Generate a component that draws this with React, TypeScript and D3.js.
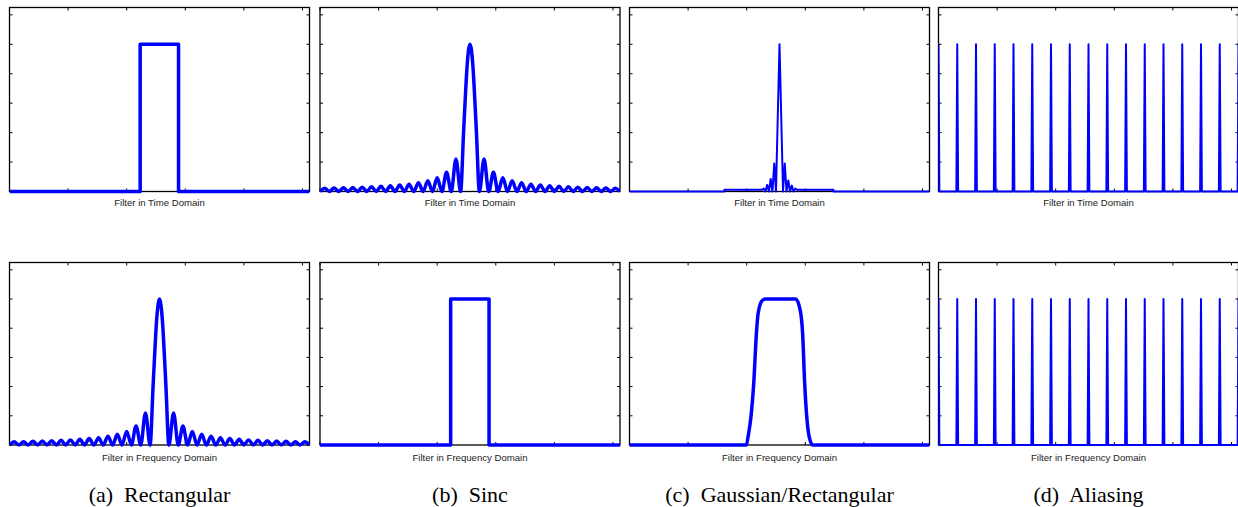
import React from 'react';
import * as d3 from 'd3';

const W = 1238;
const H = 507;

// axes
const xDomain = [0, 1024];
const yDomain = [0, 1.25];
const xTicks = [0, 200, 400, 600, 800, 1000];
const yTicks = [0, 0.2, 0.4, 0.6, 0.8, 1.0, 1.2];

// texts
const panelLetters = ['(a)', '(b)', '(c)', '(d)'];
const panelTitles = ['Rectangular', 'Sinc', 'Gaussian/Rectangular', 'Aliasing'];
const rowLabels = ['Filter in Time Domain', 'Filter in Frequency Domain'];

// rectangular filter
const rectX = [0, 446, 446, 577, 577, 1024];
const rectY = [0, 0, 1, 1, 0, 0];

// |sinc| filter (zeros and lobe peaks)
const sincX = [0, 16, 32, 48, 64, 80, 96, 112, 128, 144, 160, 176, 192, 208, 224, 240, 256, 272, 288, 304, 320, 336, 352, 368, 384, 400, 416, 432, 448, 464, 480,
  490, 496, 502, 512, 522, 528, 534,
  544, 560, 576, 592, 608, 624, 640, 656, 672, 688, 704, 720, 736, 752, 768, 784, 800, 816, 832, 848, 864, 880, 896, 912, 928, 944, 960, 976, 992, 1008, 1024];
const sincY = [0, 0.022, 0, 0.023, 0, 0.025, 0, 0.027, 0, 0.029, 0, 0.032, 0, 0.035, 0, 0.039, 0, 0.044, 0, 0.05, 0, 0.06, 0, 0.073, 0, 0.093, 0, 0.13, 0, 0.22, 0,
  0.4, 0.64, 0.85, 1, 0.85, 0.64, 0.4,
  0, 0.22, 0, 0.13, 0, 0.093, 0, 0.073, 0, 0.06, 0, 0.05, 0, 0.044, 0, 0.039, 0, 0.035, 0, 0.032, 0, 0.029, 0, 0.027, 0, 0.025, 0, 0.023, 0, 0.022, 0];

// gaussian-windowed sinc (time domain of c)
const gaussX = [0, 324, 324, 452, 458, 464, 470, 476, 482, 488, 494, 500, 512, 524, 530, 536, 542, 548, 554, 560, 566, 572, 696, 696, 1024];
const gaussY = [0, 0, 0.012, 0.012, 0.02, 0, 0.045, 0, 0.085, 0, 0.19, 0, 1, 0, 0.19, 0, 0.075, 0, 0.04, 0, 0.02, 0.012, 0.012, 0, 0];

// smoothed rectangle (frequency domain of c)
const trapX = [0, 399, 405, 415, 424, 433, 439, 453, 464, 567, 583, 591, 598, 606, 614, 625, 1024];
const trapY = [0, 0, 0.06, 0.2, 0.42, 0.76, 0.9, 0.99, 1, 1, 0.92, 0.76, 0.42, 0.17, 0.05, 0, 0];

// aliasing spikes
const aliasCenters = [0, 64, 128, 192, 256, 320, 384, 448, 512, 576, 640, 704, 768, 832, 896, 960, 1024];
const aliasHalfWidth = 3;

const zip = (xs: number[], ys: number[]) => xs.map((x, i) => [x, ys[i]] as [number, number]);
const spikes = (cs: number[], hw: number) => {
  const pts: [number, number][] = [];
  cs.forEach((c) => {
    pts.push([c - hw, 0], [c, 1], [c + hw, 0]);
  });
  return pts;
};

const panelLeft = [9.5, 320, 629.5, 938.5];
const panelW = 300;
const rowTop = [7.5, 262.5];
const rowBottom = [191.5, 445];

type Series = { pts: [number, number][]; curve: any; width: number };

const series: Series[][] = [
  [
    { pts: zip(rectX, rectY), curve: d3.curveLinear, width: 3.5 },
    { pts: zip(sincX, sincY), curve: d3.curveMonotoneX, width: 3.5 },
    { pts: zip(gaussX, gaussY), curve: d3.curveLinear, width: 2 },
    { pts: spikes(aliasCenters, aliasHalfWidth), curve: d3.curveLinear, width: 2 },
  ],
  [
    { pts: zip(sincX, sincY), curve: d3.curveMonotoneX, width: 3.5 },
    { pts: zip(rectX, rectY), curve: d3.curveLinear, width: 3.5 },
    { pts: zip(trapX, trapY), curve: d3.curveMonotoneX, width: 3.5 },
    { pts: spikes(aliasCenters, aliasHalfWidth), curve: d3.curveLinear, width: 2 },
  ],
];

function Panel({ col, row, s }: { col: number; row: number; s: Series }) {
  const x0 = panelLeft[col];
  const x1 = x0 + panelW;
  const y0 = rowTop[row];
  const y1 = rowBottom[row];
  const x = d3.scaleLinear().domain(xDomain).range([x0, x1]);
  const y = d3.scaleLinear().domain(yDomain).range([y1, y0]);
  const line = d3
    .line<[number, number]>()
    .x((d) => x(d[0]))
    .y((d) => y(d[1]))
    .curve(s.curve);
  const tl = 3;
  const clipId = `clip-${row}-${col}`;
  return (
    <g>
      <defs>
        <clipPath id={clipId}>
          <rect x={x0} y={y0 - 4} width={panelW} height={y1 - y0 + 8} />
        </clipPath>
      </defs>
      <rect x={x0} y={y0} width={panelW} height={y1 - y0} fill="#fff" stroke="#000" strokeWidth={1.3} />
      {xTicks.map((t) => (
        <g key={`xt${t}`} stroke="#000" strokeWidth={1}>
          <line x1={x(t)} x2={x(t)} y1={y1} y2={y1 - tl} />
          <line x1={x(t)} x2={x(t)} y1={y0} y2={y0 + tl} />
        </g>
      ))}
      {yTicks.map((t) => (
        <g key={`yt${t}`} stroke="#000" strokeWidth={1}>
          <line x1={x0} x2={x0 + tl} y1={y(t)} y2={y(t)} />
          <line x1={x1} x2={x1 - tl} y1={y(t)} y2={y(t)} />
        </g>
      ))}
      <path d={line(s.pts) || ''} fill="none" stroke="#0000ff" strokeWidth={s.width} strokeLinejoin="round" clipPath={`url(#${clipId})`} />
      <text
        x={(x0 + x1) / 2}
        y={y1 + (row === 0 ? 14.5 : 15.7)}
        textAnchor="middle"
        fontFamily="'Liberation Sans', Arial, sans-serif"
        fontSize={9.6}
        fill="#222"
      >
        {rowLabels[row]}
      </text>
    </g>
  );
}

export default function App() {
  return (
    <svg
      width={W}
      height={H}
      viewBox={`0 0 ${W} ${H}`}
      style={{ position: 'absolute', left: 0, top: 0, background: '#fff', display: 'block' }}
    >
      <rect x={0} y={0} width={W} height={H} fill="#fff" />
      {series.map((rowS, r) => rowS.map((s, c) => <Panel key={`${r}-${c}`} col={c} row={r} s={s} />))}
      {panelTitles.map((t, i) => (
        <text
          key={t}
          x={panelLeft[i] + panelW / 2}
          y={502}
          textAnchor="middle"
          fontFamily="'Liberation Serif', 'Times New Roman', serif"
          fontSize={22}
          fill="#000"
          style={{ whiteSpace: 'pre' }}
        >
          {`${panelLetters[i]}  ${t}`}
        </text>
      ))}
    </svg>
  );
}
